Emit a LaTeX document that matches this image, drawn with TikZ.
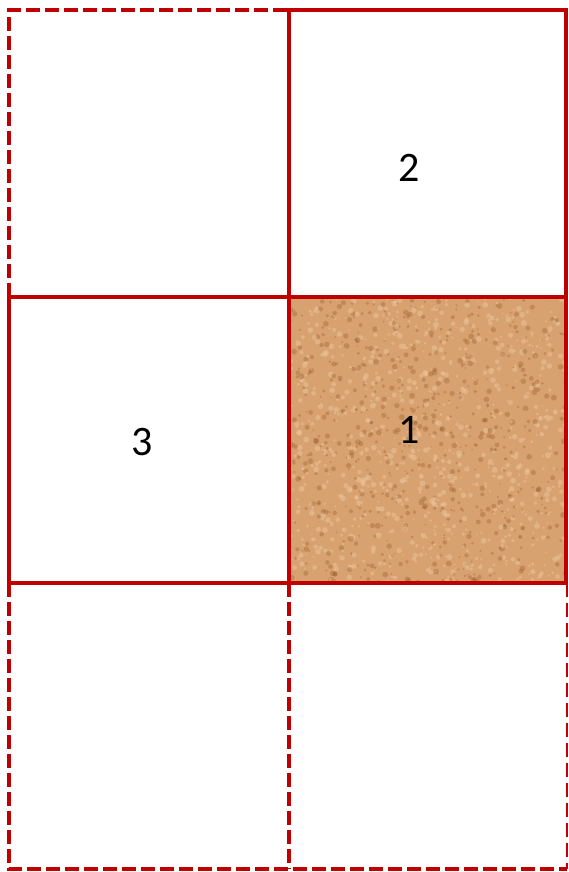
\documentclass[tikz,border=0pt]{standalone}
\usepackage{fontspec}
\setmainfont{Carlito}
\definecolor{gridred}{HTML}{C00000}
\definecolor{cork}{RGB}{216,162,112}
\definecolor{corkdark}{RGB}{140,80,35}
\definecolor{corklight}{RGB}{240,200,160}
\tikzset{
  solidedge/.style={draw=gridred,line width=4.6pt,line cap=rect},
  dashedge/.style={draw=gridred,line width=4.6pt,dash pattern=on 14pt off 5pt},
  thindash/.style={draw=gridred,line width=2.4pt,dash pattern=on 14pt off 6pt},
  numlabel/.style={font=\fontsize{42}{42}\selectfont,text=black}
}
\begin{document}
\begin{tikzpicture}[x=1pt,y=-1pt]
\useasboundingbox (0,0) rectangle (568,872);
% cork cell
\fill[cork] (289,297) rectangle (567,583);
\begin{scope}
\clip (289,297) rectangle (567,583);
\pgfmathsetseed{7}
\foreach \i in {1,...,1500}{
  \pgfmathsetmacro{\px}{289+278*rnd}
  \pgfmathsetmacro{\py}{297+286*rnd}
  \pgfmathsetmacro{\pr}{0.8+2.2*rnd}
  \pgfmathsetmacro{\pc}{rnd}
  \ifdim\pc pt<0.45pt
    \fill[corkdark,opacity=0.3] (\px,\py) circle (\pr);
  \else
    \fill[corklight,opacity=0.45] (\px,\py) circle (\pr);
  \fi
}
\end{scope}
% dashed edges
\draw[dashedge] (9,297) -- (9,10) -- (289,10);
\draw[dashedge] (9,583) -- (9,869) -- (567,869);
\draw[dashedge] (289,583) -- (289,869);
\draw[thindash] (567,583) -- (567,869);
% solid edges
\draw[solidedge] (289,10) -- (566,10) -- (566,297);
\draw[solidedge] (289,10) -- (289,583);
\draw[solidedge] (9,297) -- (566,297);
\draw[solidedge] (9,583) -- (566,583);
\draw[solidedge] (9,297) -- (9,583);
\draw[solidedge] (566,297) -- (566,583);
% labels
\node[numlabel] (two) at (409,168) {2};
\node[numlabel] (three) at (142,442) {3};
\node[numlabel] (one) at (409,430) {1};
\end{tikzpicture}
\end{document}
